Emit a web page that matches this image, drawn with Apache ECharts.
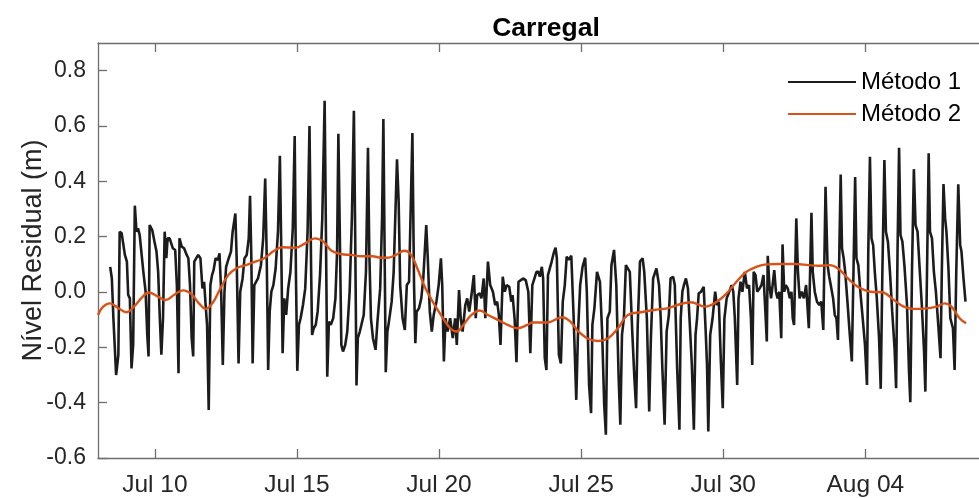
<!DOCTYPE html>
<html>
<head>
<meta charset="utf-8">
<script src="https://cdn.jsdelivr.net/npm/echarts@6/dist/echarts.min.js"></script>
<style>
  html, body { margin: 0; padding: 0; background: #ffffff; }
  #chart { width: 979px; height: 498px; }
</style>
</head>
<body>
<div id="chart"></div>
<script>
// Residual water level at Carregal, two processing methods.
// Time is given in hours since Jul 08 00:00.
const chartTitle = 'Carregal';
const yAxisName = 'Nível Residual (m)';
const seriesNames = ['Método 1', 'Método 2'];

const xTickHours = [48, 168, 288, 408, 528, 648];
const xTickLabels = ['Jul 10', 'Jul 15', 'Jul 20', 'Jul 25', 'Jul 30', 'Aug 04'];
const yTicks = [-0.6, -0.4, -0.2, 0, 0.2, 0.4, 0.6, 0.8];

// Método 1: raw residual
const m1Hours = [
  10.3, 11.7, 13.0, 15.3, 17.2, 18.3, 20.0, 21.6, 22.7, 24.4, 25.5, 26.9, 28.3, 29.7, 31.1, 32.5, 33.8, 35.2, 36.6, 38.3,
  40.2, 41.6, 42.7, 43.6, 45.8, 47.7, 49.4, 50.8, 52.2, 53.5, 54.9, 56.3, 57.7, 58.8, 60.5, 61.6, 63.2, 65.2, 66.6, 68.0,
  68.8, 70.7, 72.7, 74.9, 76.3, 77.7, 79.1, 80.4, 81.3, 82.7, 84.6, 86.5, 88.2, 89.6, 90.7, 92.1, 93.5, 94.9, 96.3, 97.6,
  99.3, 101.3, 102.6, 104.0, 105.4, 106.8, 108.2, 110.4, 112.3, 113.7, 116.0, 117.1, 118.7, 120.1, 122.1, 123.7,
  125.6, 127.3, 128.4, 129.5, 130.6, 132.0, 133.4, 135.1, 137.6, 139.5, 141.2, 142.5, 143.7, 145.0, 146.4, 148.1, 150.0,
  152.0, 153.6, 154.8, 155.9, 157.3, 158.9, 160.6, 162.5, 164.5, 166.1, 167.2, 168.3, 169.7, 171.1, 173.1, 175.0, 177.0,
  178.6, 180.0, 180.8, 182.2, 183.9, 185.5, 187.5, 189.4, 191.4, 192.5, 193.6, 195.0, 196.6, 198.6, 200.5, 201.9, 203.0,
  204.1, 205.5, 206.9, 208.8, 210.5, 212.5, 214.4, 216.1, 217.2, 218.3, 219.4, 221.1, 222.7, 224.4, 226.3, 228.0, 229.1,
  230.5, 232.2, 234.4, 236.0, 238.3, 239.9, 241.0, 242.1, 243.0, 244.4, 245.7,
  248.0, 249.7, 252.5, 253.9, 255.2, 257.2, 259.1, 260.8, 262.7, 265.5, 266.9, 268.0, 269.1, 271.1, 273.0, 274.7, 277.2,
  278.5, 280.2, 281.9, 283.5, 285.8, 287.7, 289.6, 290.7, 292.1, 293.5, 295.2, 297.4, 299.6, 301.6, 303.0, 304.9, 306.3,
  307.9, 310.2, 311.8, 313.5, 315.4, 317.4, 319.0, 320.2, 322.4, 323.8, 325.7, 327.1, 329.3, 331.2, 333.5, 335.4, 337.1,
  338.5, 339.9, 341.8, 343.5, 345.1, 347.3, 349.0, 350.1, 351.8, 353.4, 355.1, 357.1, 359.0, 361.2, 363.4, 365.1, 366.8,
  370.3, 372.0, 373.1, 374.8, 375.9, 377.3, 378.7, 380.0, 381.4, 383.1, 384.8, 386.4, 387.5, 389.2, 390.9, 392.5, 394.2,
  395.8, 397.5, 399.7, 401.7, 403.9, 405.3, 407.2, 409.2, 411.4, 412.8, 414.7, 416.4, 417.5, 419.2, 421.4, 423.9, 425.8,
  427.5, 428.9, 430.2, 432.2, 433.6, 435.8, 437.7, 439.7, 441.1, 442.5, 444.1, 445.8, 447.4, 449.1, 451.3, 453.0, 454.4,
  455.8, 457.7, 459.9, 461.3, 463.5, 465.5, 466.9, 468.8, 471.6, 473.8, 475.2, 476.6, 478.5, 480.2, 482.1, 483.5, 485.7,
  487.1, 489.1, 491.0,
  492.1, 493.5, 494.8, 496.5, 498.2, 499.8, 501.5, 503.2, 504.6, 505.9, 507.3, 509.3, 511.5, 513.2, 514.3, 515.4, 517.0,
  519.0, 521.2, 522.6, 524.3, 525.9, 527.6, 529.0, 530.9, 533.1, 535.1, 536.5, 537.8, 539.8, 540.9, 542.6, 544.2, 546.2,
  548.1, 549.8, 551.4, 552.5, 553.7, 555.3, 556.7, 558.7, 560.3, 562.0, 563.6, 564.8, 565.6, 567.0, 568.4, 569.7, 571.1,
  572.5, 573.9, 575.3, 577.0, 578.1, 579.5, 580.8, 582.5, 584.2, 585.6, 586.7, 587.8, 589.7, 591.1, 592.5, 594.2, 596.1,
  598.0, 600.3, 602.5, 603.6, 605.3, 607.2, 609.1, 610.8, 612.5,
  614.4, 616.1, 617.5, 618.8, 620.8, 622.2, 623.6, 624.9, 626.1, 627.2, 628.3, 629.7, 631.0, 632.7, 634.7, 636.6, 638.0,
  639.4, 640.5, 642.1, 643.8, 645.8, 647.7, 649.4, 650.5, 651.9, 653.2, 654.6, 656.0, 657.7, 659.6, 661.0, 662.4, 664.1,
  665.4, 667.1, 668.8, 670.7, 672.7, 674.0, 675.2, 676.5, 677.7, 679.3, 681.0, 683.2, 684.9, 686.0, 687.4, 689.0, 690.4,
  692.1, 693.7, 695.7, 697.6, 698.7, 700.1, 701.5, 702.6, 704.3, 705.9, 707.6, 709.6, 711.5, 712.6, 714.0, 715.4, 716.5,
  718.2, 719.8, 722.0, 723.4, 724.8, 726.5, 728.1, 729.2, 730.9, 732.6
];
const m1Values = [
  0.091, 0.049, -0.095, -0.300, -0.227, 0.218, 0.212, 0.206, 0.134, 0.110, -0.011, -0.023, -0.276, -0.191, 0.312, 0.218, 0.230, 0.206, 0.146, 0.073,
  0.001, -0.155, -0.233, 0.242, 0.224, 0.182, 0.146, 0.073, -0.095, -0.227, -0.095, 0.218, 0.122, 0.194, 0.194, 0.200, 0.158, 0.152, 0.025, -0.294,
  0.194, 0.164, 0.158, 0.134, 0.122, 0.025, -0.167, -0.233, 0.110, 0.116, 0.134, 0.122, 0.013, 0.037, -0.035, -0.119, -0.426, 0.025, 0.061, 0.079,
  0.122, 0.116, 0.140, 0.001, -0.264, 0.001, 0.091, 0.122, 0.146, 0.218, 0.284, 0.122, -0.258, 0.001, 0.049, 0.122,
  0.134, 0.194, 0.348, 0.122, -0.258, 0.025, 0.019, 0.049, 0.097, 0.194, 0.410, 0.122, -0.282, -0.071, 0.001, 0.025, 0.085,
  0.218, 0.492, 0.146, -0.221, -0.023, -0.083, 0.013, 0.073, 0.230, 0.564, 0.049, -0.285, -0.119, -0.095, -0.047, 0.013, 0.218,
  0.600, 0.073, -0.155, -0.131, -0.119, -0.071, 0.061, 0.266, 0.691, 0.206, -0.306, -0.107, -0.119, -0.095, -0.023, 0.146, 0.572,
  0.242, -0.191, -0.215, -0.191, -0.143, 0.001, 0.266, 0.655, 0.206, -0.338, -0.167, -0.143, -0.143, -0.083, 0.073, 0.521, 0.146,
  -0.095, -0.167, -0.209, -0.107, 0.013, 0.266, 0.625, 0.122, -0.290, -0.143, -0.107,
  -0.035, 0.073, 0.480, 0.326, 0.025, -0.095, -0.137, 0.025, 0.037, 0.575, 0.025, -0.185, -0.071, -0.059, -0.023, 0.049, 0.242,
  0.122, -0.071, -0.143, -0.083, -0.035, 0.025, 0.122, 0.025, -0.251, -0.095, -0.143, -0.095, -0.167, -0.095, -0.191, 0.007, -0.095,
  -0.143, -0.047, -0.023, -0.071, -0.011, 0.061, -0.095, -0.011, -0.005, -0.023, 0.049, -0.095, 0.110, 0.025, 0.001, -0.047, -0.035,
  -0.083, -0.191, 0.055, 0.001, 0.025, 0.019, -0.035, -0.011, -0.095, -0.254, 0.037, 0.043, 0.049, 0.043, 0.001, -0.221, 0.025,
  0.073, 0.073, 0.055, 0.091, 0.049, -0.239, -0.282, 0.061, 0.067, 0.110, 0.140, 0.160, 0.122, -0.227, -0.258, -0.035, 0.025,
  0.128, 0.116, 0.131, -0.095, -0.390, -0.155, 0.025, 0.091, 0.124, 0.001, -0.336, -0.438, -0.119, -0.059, 0.073, 0.037, -0.155,
  -0.408, -0.516, -0.095, -0.071, 0.097, 0.152, 0.025, -0.312, -0.480, -0.155, -0.095, 0.097, 0.097, 0.073, -0.155, -0.312, -0.420,
  -0.119, 0.110, 0.122, 0.073, -0.095, -0.432, -0.167, 0.049, 0.085, 0.025, -0.095, -0.276, -0.480, -0.143, -0.083, 0.049, 0.055,
  0.025, -0.276, -0.498,
  -0.095, 0.001, 0.025, 0.049, 0.013, -0.119, -0.264, -0.498, -0.155, -0.095, -0.005, 0.001, 0.019, -0.143, -0.264, -0.504, -0.155,
  -0.095, 0.001, -0.047, -0.035, -0.239, -0.420, -0.095, -0.023, 0.001, 0.025, 0.001, -0.095, -0.336, -0.023, 0.037, 0.001, 0.073,
  0.013, 0.025, -0.095, -0.264, 0.073, 0.061, 0.001, 0.013, 0.025, 0.061, -0.071, -0.179, 0.131, 0.025, -0.023, 0.025, 0.079,
  0.001, -0.023, 0.001, -0.167, 0.172, 0.001, 0.025, 0.013, -0.023, 0.001, -0.095, -0.119, 0.266, 0.073, -0.023, 0.001, -0.023,
  0.025, -0.131, 0.286, 0.073, 0.001, -0.035, -0.047, -0.035, -0.137,
  0.380, 0.097, 0.055, 0.025, -0.023, -0.083, -0.095, -0.173, 0.158, 0.425, 0.158, 0.122, 0.073, -0.023, -0.143, -0.251, 0.073,
  0.416, 0.122, 0.097, 0.001, -0.095, -0.191, -0.336, 0.146, 0.489, 0.194, 0.170, 0.073, -0.023, -0.167, -0.350, 0.073, 0.477,
  0.218, 0.182, 0.073, -0.071, -0.203, -0.348, 0.146, 0.521, 0.206, 0.182, 0.097, -0.047, -0.288, -0.398, 0.073, 0.444, 0.242,
  0.218, 0.097, -0.047, -0.215, -0.360, 0.073, 0.501, 0.218, 0.194, 0.073, 0.001, -0.119, -0.239, 0.073, 0.390, 0.266, 0.218,
  0.085, -0.095, -0.131, -0.282, 0.073, 0.389, 0.170, 0.146, 0.049, -0.035
];

// Método 2: low-pass filtered residual
const m2Hours = [
  0, 4, 10, 17, 24, 31, 37, 43, 50, 57, 65, 72, 79, 85, 91, 97, 103, 110, 117, 125,
  130.6, 140.3, 148.7, 155.6, 166.7, 175.0, 183.3, 190.3, 197.2, 205.5, 213.8, 222.2, 231.9, 238.8,
  244.7, 251.6, 258.6, 264.1, 269.7, 276.6, 283.5, 290.5, 297.4, 303.0, 308.5, 315.4, 322.4, 329.3, 337.6, 346.0, 354.3, 362.6,
  367.0, 379.5, 392.0, 398.9, 405.8, 414.2, 422.5, 430.8, 439.1, 447.4, 458.5, 469.6, 480.7,
  489.3, 500.4, 512.9, 522.6, 530.9, 539.2, 547.6, 555.9, 564.2, 575.3, 589.2, 600.3,
  608.3, 618.0, 625.0, 633.3, 641.6, 652.7, 662.4, 672.1, 680.4, 688.7, 699.8, 708.2, 715.1, 720.7, 727.6, 733.1
];
const m2Values = [
  -0.083, -0.055, -0.041, -0.058, -0.073, -0.050, -0.020, -0.002, -0.015, -0.029, -0.008, 0.006, -0.008, -0.040, -0.061, -0.038, 0.010, 0.061, 0.086, 0.097,
  0.106, 0.122, 0.149, 0.162, 0.160, 0.176, 0.194, 0.182, 0.149, 0.137, 0.134, 0.129, 0.129, 0.124,
  0.124, 0.134, 0.149, 0.136, 0.085, 0.013, -0.041, -0.089, -0.131, -0.143, -0.119, -0.083, -0.067, -0.083, -0.101, -0.119, -0.131, -0.119,
  -0.110, -0.110, -0.091, -0.107, -0.143, -0.170, -0.177, -0.167, -0.131, -0.083, -0.073, -0.065, -0.059,
  -0.047, -0.037, -0.053, -0.035, -0.005, 0.037, 0.073, 0.091, 0.100, 0.101, 0.101, 0.097,
  0.095, 0.097, 0.085, 0.049, 0.019, 0.001, -0.001, -0.029, -0.053, -0.061, -0.059, -0.053, -0.041, -0.053, -0.095, -0.113
];

const colors = ['#1c1c1c', '#d95319'];
const fontFamily = '"Liberation Sans", Arial, Helvetica, sans-serif';
const axisColor = '#6e6e6e';
const textColor = '#262626';

const pairs = (hours, values) => hours.map((h, i) => [h, values[i]]);

const chart = echarts.init(document.getElementById('chart'), null, { renderer: 'canvas' });

const frameAxis = {
  axisLine: { show: true, onZero: false, lineStyle: { color: axisColor, width: 1.3 } },
  splitLine: { show: false }
};

chart.setOption({
  animation: false,
  backgroundColor: '#ffffff',
  title: {
    text: chartTitle,
    left: 541,
    top: 10,
    textAlign: 'center',
    textStyle: { fontFamily, fontSize: 26.5, fontWeight: 'bold', color: '#000000' }
  },
  legend: {
    data: seriesNames,
    orient: 'vertical',
    left: 788,
    top: 70,
    padding: 0,
    itemGap: 8,
    itemWidth: 68,
    itemHeight: 2,
    icon: 'rect',
    textStyle: { fontFamily, fontSize: 24, lineHeight: 24, color: '#000000' }
  },
  grid: { left: 98, right: -13, top: 43, bottom: 40 },
  xAxis: [
    Object.assign({
      type: 'value', position: 'bottom', min: 0, max: 744,
      axisTick: { inside: true, length: 9, customValues: xTickHours, lineStyle: { color: axisColor, width: 1.3 } },
      axisLabel: {
        customValues: xTickHours,
        formatter: v => xTickLabels[xTickHours.indexOf(v)] || '',
        fontFamily, fontSize: 24.5, color: textColor, margin: 15
      }
    }, frameAxis),
    Object.assign({
      type: 'value', position: 'top', min: 0, max: 744,
      axisTick: { inside: true, length: 9, customValues: xTickHours, lineStyle: { color: axisColor, width: 1.3 } },
      axisLabel: { show: false }
    }, frameAxis)
  ],
  yAxis: [
    Object.assign({
      type: 'value', min: -0.6, max: 0.9,
      name: yAxisName, nameLocation: 'middle', nameGap: 51, nameMoveOverlap: false,
      nameTextStyle: { fontFamily, fontSize: 27, color: textColor },
      axisTick: { inside: true, length: 9, customValues: yTicks, lineStyle: { color: axisColor, width: 1.3 } },
      axisLabel: {
        customValues: yTicks,
        formatter: v => (Math.abs(v) < 1e-9 ? 0 : v).toFixed(1),
        fontFamily, fontSize: 23, color: textColor, margin: 12
      }
    }, frameAxis)
  ],
  series: [
    {
      name: seriesNames[0], type: 'line', xAxisIndex: 0, yAxisIndex: 0,
      data: pairs(m1Hours, m1Values),
      symbol: 'none', color: colors[0],
      lineStyle: { color: colors[0], width: 2.6 }
    },
    {
      name: seriesNames[1], type: 'line', xAxisIndex: 0, yAxisIndex: 0,
      data: pairs(m2Hours, m2Values),
      symbol: 'none', smooth: 0.4, color: colors[1],
      lineStyle: { color: colors[1], width: 2.4 }
    }
  ]
});
</script>
</body>
</html>
